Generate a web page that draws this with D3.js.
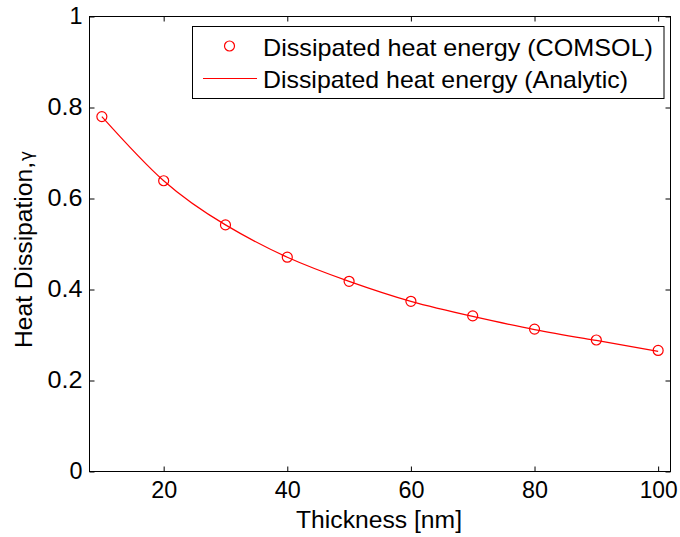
<!DOCTYPE html>
<html>
<head>
<meta charset="utf-8">
<script src="https://cdn.jsdelivr.net/npm/d3@7/dist/d3.min.js"></script>
<style>
html,body{margin:0;padding:0;background:#fff;}
svg{display:block;font-family:"Liberation Sans",Arial,sans-serif;}
</style>
</head>
<body>
<svg id="chart" width="680" height="537"></svg>
<script>
const thickness = [10, 20, 30, 40, 50, 60, 70, 80, 90, 100];
const comsol = [0.780, 0.639, 0.542, 0.471, 0.418, 0.374, 0.342, 0.313, 0.289, 0.266];
const analytic = [0.780, 0.639, 0.542, 0.471, 0.418, 0.374, 0.341, 0.312, 0.288, 0.264];
const xTicks = [20, 40, 60, 80, 100];
const yTicks = [0, 0.2, 0.4, 0.6, 0.8, 1];
const yTickLabels = ["0", "0.2", "0.4", "0.6", "0.8", "1"];
const legendLabels = ["Dissipated heat energy (COMSOL)", "Dissipated heat energy (Analytic)"];

const svg = d3.select("#chart");
const L = 89.5, R = 670.5, T = 16.5, B = 471.5;
const x = d3.scaleLinear().domain([8, 102]).range([L, R]);
const y = d3.scaleLinear().domain([0, 1]).range([B, T]);
const red = "#ff0000";
const fs = 23;

// box
svg.append("rect").attr("x", L).attr("y", T).attr("width", R - L).attr("height", B - T)
  .attr("fill", "none").attr("stroke", "#000").attr("stroke-width", 1);

const tl = 5;
const xb = svg.append("g").attr("transform", `translate(0,${B})`)
  .call(d3.axisBottom(x).tickValues(xTicks).tickSizeInner(-tl).tickSizeOuter(0).tickPadding(10).tickFormat(d3.format("d")));
const xt = svg.append("g").attr("transform", `translate(0,${T})`)
  .call(d3.axisTop(x).tickValues(xTicks).tickSizeInner(-tl).tickSizeOuter(0).tickFormat(""));
const yl = svg.append("g").attr("transform", `translate(${L},0)`)
  .call(d3.axisLeft(y).tickValues(yTicks).tickSizeInner(-tl).tickSizeOuter(0).tickPadding(7).tickFormat((d, i) => yTickLabels[i]));
const yr = svg.append("g").attr("transform", `translate(${R},0)`)
  .call(d3.axisRight(y).tickValues(yTicks).tickSizeInner(-tl).tickSizeOuter(0).tickFormat(""));
[xb, xt, yl, yr].forEach(g => {
  g.select(".domain").remove();
  g.selectAll("line").attr("stroke", "#000");
  g.selectAll("text").attr("font-size", fs).attr("fill", "#000")
    .attr("font-family", '"Liberation Sans",Arial,sans-serif');
});
xb.selectAll("text").attr("textLength", d => (String(d).length === 3 ? 38 : 26)).attr("lengthAdjust", "spacingAndGlyphs");
yl.selectAll("text").attr("textLength", (d, i) => (yTickLabels[i].length === 3 ? 35 : 13)).attr("lengthAdjust", "spacingAndGlyphs");

// analytic line
const line = d3.line().x((d, i) => x(thickness[i])).y(d => y(d)).curve(d3.curveNatural);
svg.append("path").datum(analytic).attr("d", line).attr("fill", "none").attr("stroke", red).attr("stroke-width", 1.2);

// comsol markers
svg.append("g").selectAll("circle").data(comsol).join("circle")
  .attr("cx", (d, i) => x(thickness[i])).attr("cy", d => y(d)).attr("r", 5)
  .attr("fill", "none").attr("stroke", red).attr("stroke-width", 1.2);

// axis titles
svg.append("text").attr("x", 379).attr("y", 528).attr("text-anchor", "middle")
  .attr("font-size", fs).attr("textLength", 166).attr("lengthAdjust", "spacingAndGlyphs").text("Thickness [nm]");
const yt = svg.append("text").attr("transform", `translate(32,348) rotate(-90)`)
  .attr("text-anchor", "start").attr("font-size", fs);
yt.append("tspan").attr("textLength", 186).attr("lengthAdjust", "spacingAndGlyphs").text("Heat Dissipation,");
yt.append("tspan").attr("font-family", '"DejaVu Sans",sans-serif').attr("font-size", 17).attr("dx", 1).text("γ");

// legend
const lg = svg.append("g");
lg.append("rect").attr("x", 192.5).attr("y", 26.5).attr("width", 471.5).attr("height", 72)
  .attr("fill", "#fff").attr("stroke", "#000").attr("stroke-width", 1);
lg.append("circle").attr("cx", 229.5).attr("cy", 46).attr("r", 5)
  .attr("fill", "none").attr("stroke", red).attr("stroke-width", 1.2);
lg.append("line").attr("x1", 203).attr("x2", 257).attr("y1", 78.5).attr("y2", 78.5)
  .attr("stroke", red).attr("stroke-width", 1.2);
const legendWidths = [390, 365];
lg.selectAll("text.lab").data(legendLabels).join("text").attr("class", "lab")
  .attr("x", 263).attr("y", (d, i) => 56 + i * 32).attr("font-size", 24)
  .attr("textLength", (d, i) => legendWidths[i]).attr("lengthAdjust", "spacingAndGlyphs").text(d => d);
</script>
</body>
</html>
